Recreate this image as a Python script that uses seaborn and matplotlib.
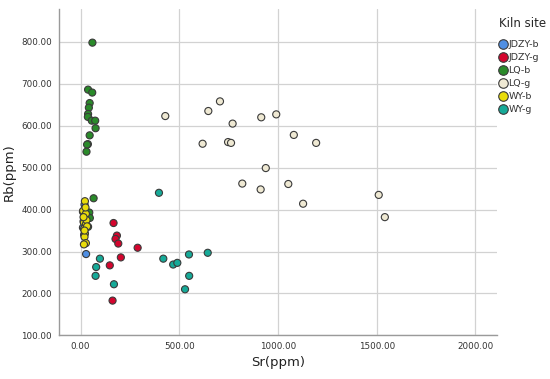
import numpy as np
import pandas as pd
import matplotlib
matplotlib.use("Agg")
import matplotlib.pyplot as plt
import seaborn as sns

# values (Sr, Rb in ppm)
jdzy_b_sr = [20, 12, 15, 12, 18, 28]
jdzy_b_rb = [412, 395, 372, 357, 340, 294]

jdzy_g_sr = [167, 184, 177, 191, 289, 204, 148, 162]
jdzy_g_rb = [368, 338, 330, 319, 309, 286, 267, 183]

lq_b_sr = [60, 38, 59, 46, 42, 38, 37, 57, 74, 76, 46, 37, 33, 30, 66, 44, 47, 38]
lq_b_rb = [798, 686, 679, 654, 643, 628, 621, 612, 612, 594, 577, 556, 555, 538, 427, 393, 380, 359]

lq_g_sr = [429, 706, 647, 770, 915, 991, 618, 747, 762, 1080, 1193, 938, 819, 912, 1052, 1127, 1510, 1541]
lq_g_rb = [623, 658, 635, 605, 620, 627, 557, 561, 559, 578, 559, 499, 462, 448, 461, 414, 435, 382]

wy_b_sr = [22, 13, 27, 17, 27, 18, 22, 20, 27, 17, 25, 30, 15, 33, 20]
wy_b_rb = [420, 397, 390, 369, 365, 354, 343, 335, 320, 317, 405, 375, 382, 360, 350]

wy_g_sr = [397, 98, 79, 76, 169, 419, 469, 490, 549, 550, 529, 644]
wy_g_rb = [440, 283, 263, 242, 222, 283, 269, 273, 293, 242, 210, 297]

sites = ["JDZY-b", "JDZY-g", "LQ-b", "LQ-g", "WY-b", "WY-g"]
colors = ["#4f8fe3", "#d4052e", "#2a8a2a", "#efe9d3", "#e9dc0a", "#16aa98"]

frames = []
for name, sr, rb in zip(sites,
                        [jdzy_b_sr, jdzy_g_sr, lq_b_sr, lq_g_sr, wy_b_sr, wy_g_sr],
                        [jdzy_b_rb, jdzy_g_rb, lq_b_rb, lq_g_rb, wy_b_rb, wy_g_rb]):
    frames.append(pd.DataFrame({"Sr": sr, "Rb": rb, "Kiln site": name}))
df = pd.concat(frames, ignore_index=True)

sns.set_style("white")
fig = plt.figure(figsize=(5.5, 3.79), dpi=100)
ax = fig.add_axes([0.107, 0.115, 0.797, 0.861])

sns.scatterplot(data=df, x="Sr", y="Rb", hue="Kiln site", hue_order=sites,
                palette=dict(zip(sites, colors)), s=26, edgecolor="#3a3a3a",
                linewidth=0.8, ax=ax, zorder=3)

ax.set_xlim(-110, 2110)
ax.set_ylim(100, 878)
ax.set_xticks([0, 500, 1000, 1500, 2000])
ax.set_yticks([100, 200, 300, 400, 500, 600, 700, 800])
ax.set_xticklabels([f"{v:.2f}" for v in [0, 500, 1000, 1500, 2000]])
ax.set_yticklabels([f"{v:.2f}" for v in [100, 200, 300, 400, 500, 600, 700, 800]])
ax.tick_params(axis="both", labelsize=6.3, colors="#333333", length=0, pad=5)
ax.grid(True, color="#d2d2d2", linewidth=0.9, zorder=0)
ax.set_axisbelow(True)
for side in ["top", "right"]:
    ax.spines[side].set_visible(False)
for side in ["left", "bottom"]:
    ax.spines[side].set_color("#9a9a9a")
    ax.spines[side].set_linewidth(1.0)

ax.set_xlabel("Sr(ppm)", fontsize=9.5, color="#222222", labelpad=3)
ax.set_ylabel("Rb(ppm)", fontsize=9.5, color="#222222", labelpad=4)

sns.move_legend(ax, "upper left", bbox_to_anchor=(1.003, 0.975), frameon=False,
                title="Kiln site", fontsize=6.8, title_fontsize=8.5,
                handletextpad=0.15, handlelength=0.9, labelspacing=0.42,
                markerscale=1.35, borderaxespad=0, borderpad=0)
leg = ax.get_legend()
leg._legend_box.align = "left"
leg._legend_box.sep = 7
for t in leg.get_texts():
    t.set_color("#333333")

fig.savefig("out.png", dpi=100)
